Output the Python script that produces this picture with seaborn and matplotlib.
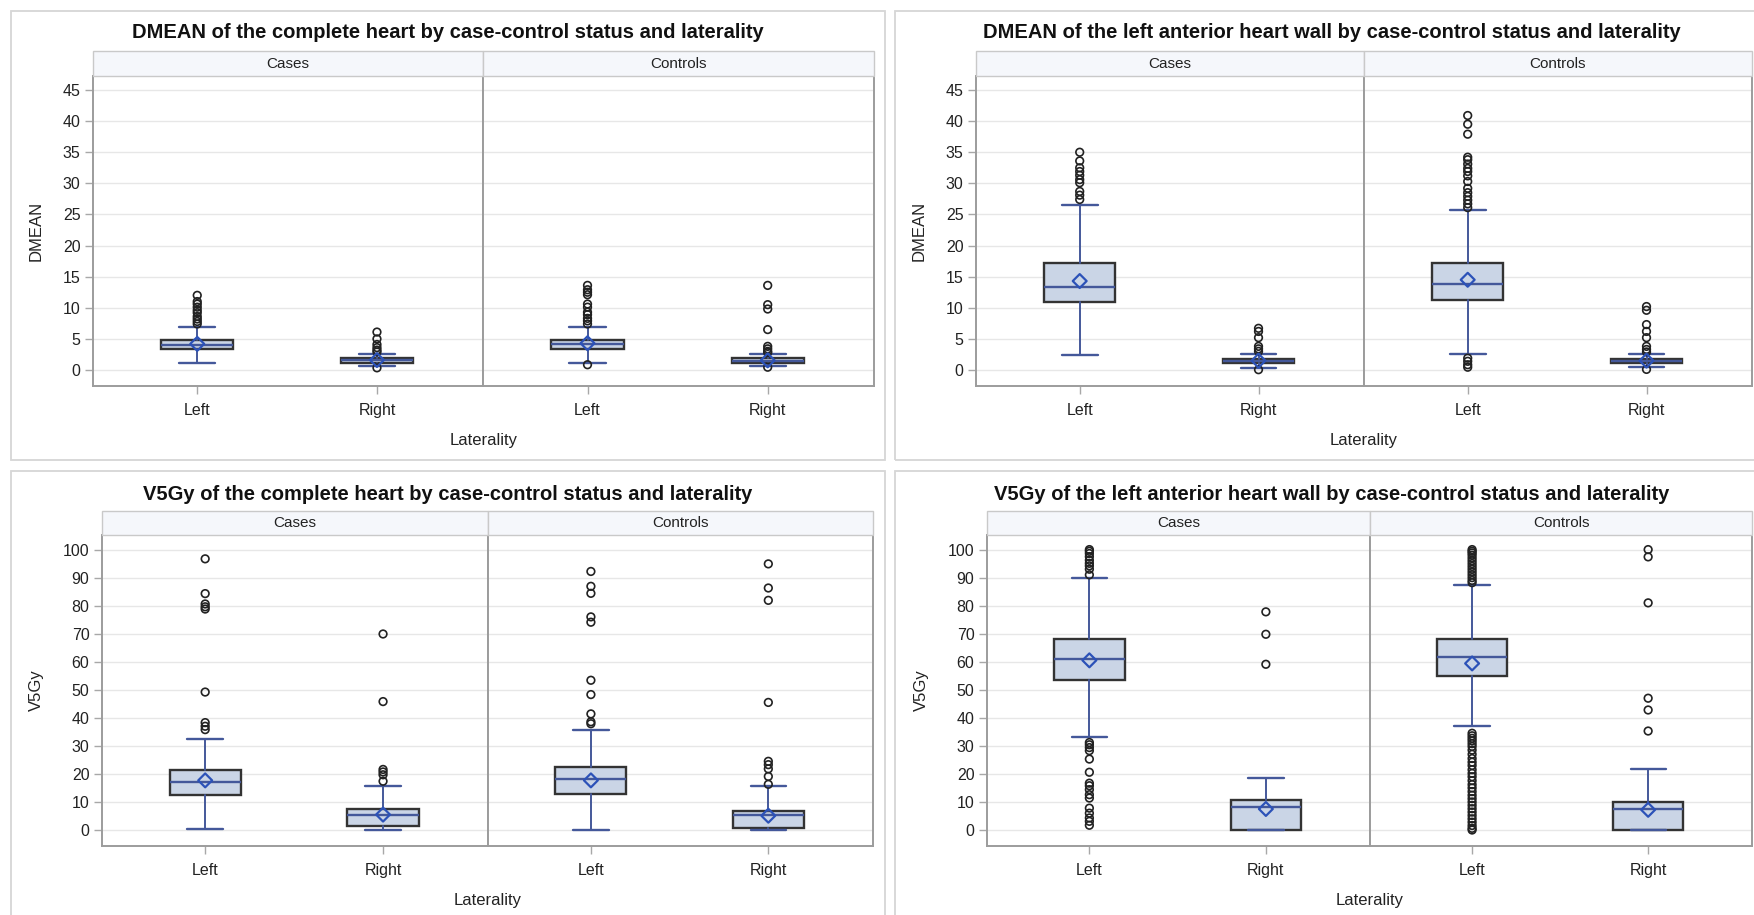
import matplotlib
matplotlib.use("Agg")
import matplotlib.pyplot as plt
import seaborn as sns
import pandas as pd
from matplotlib.patches import Rectangle

sns.set_theme(style="white")
plt.rcParams['font.family'] = ['Liberation Sans', 'DejaVu Sans']

# ---------------- data (order: Cases-Left, Cases-Right, Controls-Left, Controls-Right)
laterality = ["Left", "Right"]
status = ["Cases", "Controls"]

# DMEAN of the complete heart
dm_heart_q1 = [3.3, 1.2, 3.3, 1.1]
dm_heart_median = [4.0, 1.6, 4.1, 1.5]
dm_heart_q3 = [4.9, 1.9, 4.9, 1.9]
dm_heart_whislo = [1.2, 0.6, 1.1, 0.6]
dm_heart_whishi = [6.9, 2.6, 6.9, 2.6]
dm_heart_mean = [4.2, 1.6, 4.3, 1.55]
dm_heart_outliers = [
    [12.0, 11.0, 10.6, 10.1, 9.6, 9.2, 8.6, 8.2, 7.8, 7.4],
    [6.1, 5.0, 4.1, 3.6, 3.2, 2.9, 0.35],
    [13.6, 12.9, 12.5, 12.1, 10.6, 10.1, 9.3, 8.9, 8.3, 7.9, 7.4, 0.85],
    [13.6, 10.5, 9.8, 6.5, 3.8, 3.4, 3.0, 2.8, 0.45],
]

# DMEAN of the left anterior heart wall
dm_law_q1 = [11.0, 1.1, 11.3, 1.1]
dm_law_median = [13.3, 1.4, 13.9, 1.4]
dm_law_q3 = [17.2, 1.8, 17.2, 1.8]
dm_law_whislo = [2.4, 0.3, 2.5, 0.5]
dm_law_whishi = [26.5, 2.6, 25.7, 2.5]
dm_law_mean = [14.3, 1.5, 14.5, 1.5]
dm_law_outliers = [
    [35.0, 33.6, 32.5, 31.9, 31.3, 30.6, 30.1, 28.7, 28.1, 27.4],
    [6.7, 6.2, 5.2, 3.8, 3.4, 3.0, 0.05],
    [40.9, 39.5, 37.9, 34.2, 33.8, 33.1, 32.4, 31.9, 31.2, 30.3, 29.2, 28.5,
     27.9, 27.3, 26.7, 26.1, 1.9, 1.4, 0.85, 0.45],
    [10.2, 9.6, 7.3, 6.2, 5.2, 3.8, 3.3, 2.9, 0.1],
]

# V5Gy of the complete heart
v5_heart_q1 = [12.6, 1.3, 13.0, 0.8]
v5_heart_median = [17.1, 5.5, 18.2, 5.5]
v5_heart_q3 = [21.3, 7.5, 22.5, 6.9]
v5_heart_whislo = [0.3, 0.1, 0.1, 0.1]
v5_heart_whishi = [32.5, 15.6, 35.6, 15.6]
v5_heart_mean = [17.7, 5.5, 17.7, 5.1]
v5_heart_outliers = [
    [96.7, 84.3, 80.6, 79.6, 78.8, 49.2, 38.3, 37.0, 35.8],
    [69.9, 45.8, 21.6, 20.7, 19.7, 17.4],
    [92.2, 86.9, 84.4, 76.0, 74.1, 53.4, 48.3, 41.4, 38.6, 37.9],
    [94.9, 86.3, 81.9, 45.5, 24.5, 23.3, 21.8, 19.1, 16.3],
]

# V5Gy of the left anterior heart wall
v5_law_q1 = [53.5, 0.0, 55.0, 0.0]
v5_law_median = [61.1, 8.2, 61.8, 7.6]
v5_law_q3 = [68.0, 10.6, 68.2, 10.0]
v5_law_whislo = [33.2, 0.0, 37.2, 0.0]
v5_law_whishi = [89.7, 18.5, 87.2, 21.7]
v5_law_mean = [60.5, 7.5, 59.4, 7.2]
v5_law_outliers = [
    [100.0, 99.4, 98.6, 97.5, 96.2, 95.1, 94.2, 93.0, 91.0, 31.2, 30.4, 29.4,
     28.3, 25.3, 20.6, 16.7, 15.8, 14.4, 12.6, 11.4, 7.8, 6.0, 4.3, 3.1, 1.7],
    [77.8, 69.8, 59.1],
    [100.0, 99.4, 98.8, 98.0, 97.0, 96.0, 95.0, 94.0, 93.0, 92.0, 91.0, 90.0,
     89.0, 88.2, 34.5, 33.6, 32.7, 31.8, 30.8, 29.8, 28.5, 27.0, 25.5, 24.2,
     23.0, 21.5, 20.2, 19.0, 17.6, 16.2, 15.0, 13.7, 12.4, 11.2, 10.0, 8.8,
     7.6, 6.4, 5.2, 4.0, 2.8, 1.6, 0.6, 0.0],
    [100.0, 97.4, 81.0, 47.0, 42.8, 35.3],
]

titles = [
    "DMEAN of the complete heart by case-control status and laterality",
    "DMEAN of the left anterior heart wall by case-control status and laterality",
    "V5Gy of the complete heart by case-control status and laterality",
    "V5Gy of the left anterior heart wall by case-control status and laterality",
]
ylabels = ["DMEAN", "DMEAN", "V5Gy", "V5Gy"]
xlabel = "Laterality"

# ---------------- styling / layout
W, H = 1754, 915
fig = plt.figure(figsize=(W / 100, H / 100), dpi=100)
fig.patch.set_facecolor("white")

BOX_FILL = "#CAD5E6"
BOX_EDGE = "#333333"
BLUE = "#44589A"
MEAN_BLUE = "#2C52B8"
FRAME = "#9C9C9C"
TXT = "#222222"
FAM = ['Liberation Sans', 'DejaVu Sans']

panels = [
    dict(data=(dm_heart_q1, dm_heart_median, dm_heart_q3, dm_heart_whislo, dm_heart_whishi, dm_heart_mean, dm_heart_outliers),
         x0=93, xm=483, x1=874, yh=51, yt=76, yb=386, outer=(11, 11, 885, 460), ty=33,
         ylim=(-2.57, 47.25), yticks=range(0, 46, 5), lab=49),
    dict(data=(dm_law_q1, dm_law_median, dm_law_q3, dm_law_whislo, dm_law_whishi, dm_law_mean, dm_law_outliers),
         x0=976, xm=1364, x1=1752, yh=51, yt=76, yb=386, outer=(895, 11, 1769, 460), ty=33,
         ylim=(-2.57, 47.25), yticks=range(0, 46, 5), lab=49),
    dict(data=(v5_heart_q1, v5_heart_median, v5_heart_q3, v5_heart_whislo, v5_heart_whishi, v5_heart_mean, v5_heart_outliers),
         x0=102, xm=488, x1=873, yh=511, yt=535, yb=846, outer=(11, 471, 885, 930), ty=494,
         ylim=(-5.7, 105.2), yticks=range(0, 101, 10), lab=58),
    dict(data=(v5_law_q1, v5_law_median, v5_law_q3, v5_law_whislo, v5_law_whishi, v5_law_mean, v5_law_outliers),
         x0=987, xm=1370, x1=1752, yh=511, yt=535, yb=846, outer=(895, 471, 1769, 930), ty=494,
         ylim=(-5.7, 105.2), yticks=range(0, 101, 10), lab=58),
]


def fx(x):
    return x / W


def fy(y):
    return 1 - y / H


for pi, p in enumerate(panels):
    q1, med, q3, lo, hi, mean, outl = p["data"]
    ox0, oy0, ox1, oy1 = p["outer"]
    fig.patches.append(Rectangle((fx(ox0), fy(oy1)), fx(ox1 - ox0), (oy1 - oy0) / H,
                                 transform=fig.transFigure, fill=False, ec="#D6D6D6", lw=1.3, zorder=0))
    fig.text(fx((ox0 + ox1) / 2), fy(p["ty"]), titles[pi], ha="center", va="center",
             fontsize=14.5, fontweight="bold", color="#111111", family=FAM)
    fig.text(fx((p["x0"] + p["x1"]) / 2), fy(p["yb"] + 54), xlabel, ha="center", va="center",
             fontsize=12, color=TXT, family=FAM)

    bounds = [(p["x0"], p["xm"]), (p["xm"], p["x1"])]
    first_ax = None
    for gi, (a, b) in enumerate(bounds):
        ax = fig.add_axes([fx(a), fy(p["yb"]), fx(b - a), (p["yb"] - p["yt"]) / H],
                          sharey=first_ax)
        # facet header
        fig.patches.append(Rectangle((fx(a), fy(p["yt"])), fx(b - a), (p["yt"] - p["yh"]) / H,
                                     transform=fig.transFigure, fc="#F5F7FB", ec="#C9C9C9", lw=1.0, zorder=1))
        fig.text(fx((a + b) / 2), fy((p["yh"] + p["yt"]) / 2), status[gi], ha="center", va="center",
                 fontsize=11, color=TXT, family=FAM, zorder=2)

        idx = [2 * gi, 2 * gi + 1]
        stats = [dict(q1=q1[i], med=med[i], q3=q3[i], whislo=lo[i], whishi=hi[i],
                      mean=mean[i], fliers=[], label=laterality[k]) for k, i in enumerate(idx)]
        ax.bxp(stats, positions=[0, 1], widths=0.4, capwidths=0.2, patch_artist=True,
               showfliers=False, showmeans=False, manage_ticks=False,
               boxprops=dict(facecolor=BOX_FILL, edgecolor=BOX_EDGE, linewidth=1.7),
               medianprops=dict(color=BLUE, linewidth=1.7),
               whiskerprops=dict(color=BLUE, linewidth=1.4),
               capprops=dict(color=BLUE, linewidth=1.7))

        opos, oval = [], []
        for k, i in enumerate(idx):
            opos += [k] * len(outl[i])
            oval += list(outl[i])
        df_o = pd.DataFrame({"pos": opos, "value": oval})
        sns.scatterplot(data=df_o, x="pos", y="value", ax=ax, marker="o", s=30,
                        color="none", edgecolor="#222222", linewidth=1.2, zorder=4, legend=False)
        df_m = pd.DataFrame({"pos": [0, 1], "value": [mean[i] for i in idx]})
        sns.scatterplot(data=df_m, x="pos", y="value", ax=ax, marker="D", s=50,
                        color="none", edgecolor=MEAN_BLUE, linewidth=1.6, zorder=5, legend=False)

        ax.set_xlim(-0.58, 1.59)
        ax.set_ylim(*p["ylim"])
        ax.set_yticks(list(p["yticks"]))
        ax.set_xticks([0, 1])
        ax.set_xticklabels(laterality, fontsize=11.5, color=TXT, family=FAM)
        ax.set_xlabel("")
        ax.set_ylabel("")
        ax.set_axisbelow(True)
        ax.yaxis.grid(True, color="#E7E7E7", lw=1.0)
        ax.xaxis.grid(False)
        for sp in ax.spines.values():
            sp.set_color(FRAME)
            sp.set_linewidth(1.4)
        ax.tick_params(axis="x", bottom=True, length=6, width=1, color="#A8A8A8", pad=6)
        if gi == 0:
            ax.tick_params(axis="y", left=True, length=6, width=1, color="#A8A8A8", pad=3,
                           labelsize=11.5, labelcolor=TXT)
            for t in ax.get_yticklabels():
                t.set_family(FAM)
            ax.set_ylabel(ylabels[pi], fontsize=12, color=TXT, family=FAM)
            ax.yaxis.set_label_coords(-p["lab"] / (b - a), 0.5)
            first_ax = ax
        else:
            ax.tick_params(axis="y", left=False, labelleft=False)

fig.savefig("out.png", dpi=100)
